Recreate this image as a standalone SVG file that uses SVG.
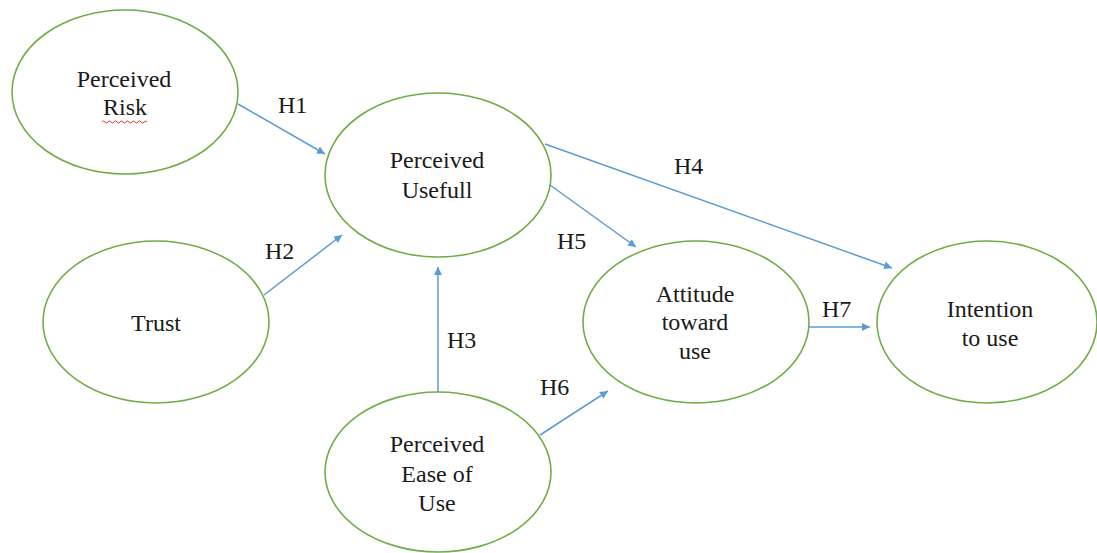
<svg xmlns="http://www.w3.org/2000/svg" width="1097" height="553" viewBox="0 0 1097 553">
<style>
.node ellipse{fill:#fff;stroke:#70AD47;stroke-width:1.6}
.node text,.lbl{font-family:"Liberation Serif","Times New Roman",serif;font-size:24px;fill:#1a1a1a;text-anchor:middle}
.lbl{text-anchor:start}
.conn line{stroke:#5B9BD5;stroke-width:1.5;marker-end:url(#ah)}
</style>
<defs>
<marker id="ah" viewBox="0 0 10 10" refX="10" refY="5" markerWidth="8" markerHeight="8" markerUnits="userSpaceOnUse" orient="auto">
<path d="M0,0 L10,5 L0,10 z" fill="#5B9BD5"/>
</marker>
</defs>
<rect width="1097" height="553" fill="#fff"/>
<g id="risk" class="node">
<ellipse cx="125" cy="92" rx="113" ry="82"/>
<text x="124" y="87">Perceived</text>
<text x="125" y="115">Risk</text>
<path d="M102,122 q1.5,-2 3,0 t3,0 t3,0 t3,0 t3,0 t3,0 t3,0 t3,0 t3,0 t3,0 t3,0 t3,0 t3,0 t3,0 t3,0" fill="none" stroke="#e03030" stroke-width="1"/>
</g>
<g id="useful" class="node">
<ellipse cx="438" cy="175" rx="113" ry="82"/>
<text x="437" y="168">Perceived</text>
<text x="437" y="198">Usefull</text>
</g>
<g id="trust" class="node">
<ellipse cx="156" cy="322" rx="113" ry="81"/>
<text x="156" y="331">Trust</text>
</g>
<g id="ease" class="node">
<ellipse cx="438" cy="472" rx="113" ry="80"/>
<text x="437" y="452">Perceived</text>
<text x="437" y="482">Ease of</text>
<text x="437" y="511">Use</text>
</g>
<g id="attitude" class="node">
<ellipse cx="696" cy="322" rx="113" ry="81"/>
<text x="695" y="302">Attitude</text>
<text x="695" y="330">toward</text>
<text x="695" y="359">use</text>
</g>
<g id="intention" class="node">
<ellipse cx="987" cy="322" rx="110" ry="81"/>
<text x="990" y="317">Intention</text>
<text x="990" y="346">to use</text>
</g>
<g id="connectors" class="conn">
<line x1="238" y1="104" x2="325" y2="154"/>
<line x1="264" y1="295" x2="342" y2="235"/>
<line x1="438" y1="392" x2="438" y2="267"/>
<line x1="545" y1="144" x2="892" y2="268"/>
<line x1="550" y1="185" x2="636" y2="247"/>
<line x1="540" y1="435" x2="608" y2="391"/>
<line x1="809" y1="327" x2="870" y2="327"/>
</g>
<g id="labels">
<text class="lbl" x="278" y="113">H1</text>
<text class="lbl" x="265" y="259">H2</text>
<text class="lbl" x="447" y="348">H3</text>
<text class="lbl" x="674" y="174">H4</text>
<text class="lbl" x="557" y="249">H5</text>
<text class="lbl" x="540" y="395">H6</text>
<text class="lbl" x="822" y="317">H7</text>
</g>
</svg>
